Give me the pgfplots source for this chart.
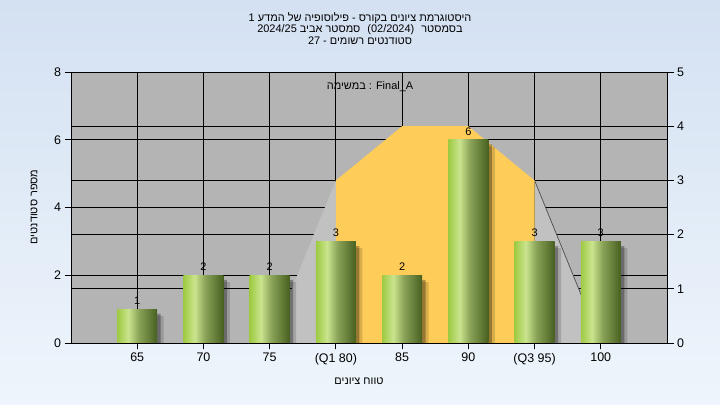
\documentclass[border=0pt]{standalone}
\usepackage{fontspec}
\setmainfont{Liberation Sans}
\newfontfamily\hebfont[Script=Hebrew]{Liberation Sans}
\usepackage{pgfplots}
\pgfplotsset{compat=1.18}
\TeXXeTstate=1

\definecolor{bgtop}{RGB}{212,225,242}
\definecolor{bgbot}{RGB}{238,245,252}
\definecolor{plotgray}{RGB}{180,180,180}
\definecolor{wedge}{RGB}{193,193,193}
\definecolor{boxor}{RGB}{254,204,88}
\definecolor{g1}{RGB}{158,202,66}
\definecolor{g2}{RGB}{202,228,142}
\definecolor{g3}{RGB}{138,163,88}
\definecolor{g4}{RGB}{72,96,32}
\pgfdeclarehorizontalshading{barshade}{100bp}{color(0bp)=(g1); color(25bp)=(g1); color(39bp)=(g2); color(52bp)=(g3); color(75bp)=(g4); color(100bp)=(g4)}

\pgfplotsset{myax/.style={
  scale only axis, width=596bp, height=271bp,
  at={(71bp,62bp)}, anchor=south west,
  xmin=-1, xmax=8,
  tick align=outside, major tick length=6.5bp,
  tick style={black, line width=0.8bp},
  axis line style={black, line width=0.8bp},
  tick label style={font=\fontsize{12.5}{13}\selectfont, black},
  /pgf/number format/assume math mode=true,
}}
\newcommand{\gbar}[2]{\addplot[ybar, bar width=40bp, bar shift=0pt, draw=none, shade, shading=barshade,
  nodes near coords,
  every node near coord/.append style={font=\fontsize{11}{11}\selectfont, text=black, yshift=1bp}]
  coordinates {(#1,#2)};}

\begin{document}
\begin{tikzpicture}
\useasboundingbox (0,0) rectangle (720bp,405bp);
\shade[top color=bgtop, bottom color=bgbot] (0,0) rectangle (720bp,405bp);

% right-scale axis: background, grid, box-plot shape
\begin{axis}[myax,
  ymin=0, ymax=5, ytick={0,...,5}, ytick pos=right,
  xtick={0,...,7}, xticklabels={}, xtick pos=left,
  xmajorgrids, ymajorgrids,
  grid style={black, line width=0.8bp},
  extra y ticks={1.25,2.5,3.75}, extra y tick labels={},
  extra y tick style={major tick length=0pt, grid=major},
  axis background/.style={fill=plotgray},
]
\addplot[fill=wedge, draw=none] coordinates {(2,0) (3,3) (3,0)} -- cycle;
\addplot[fill=wedge, draw=none] coordinates {(6,0) (6,3) (7,0)} -- cycle;
\addplot[draw=black!70, line width=0.7bp] coordinates {(6,3) (7,0)};
\addplot[fill=boxor, draw=none] coordinates {(3,0) (3,3) (4,4) (5,4) (6,3) (6,0)} -- cycle;
\end{axis}

% left-scale axis: bars
\begin{axis}[myax,
  ymin=0, ymax=8, ytick={0,2,4,6,8}, ytick pos=left,
  xtick={0,...,7}, xticklabels={65,70,75,(Q1 80),85,90,(Q3 95),100}, xtick pos=left,
]
\addplot[ybar, bar width=40bp, bar shift=6.5bp, fill=black, opacity=0.15, draw=none]
  coordinates {(0,0.8) (1,1.8) (2,1.8) (3,2.8) (4,1.8) (5,5.8) (6,2.8) (7,2.8)};
\addplot[ybar, bar width=40bp, bar shift=3.5bp, fill=black, opacity=0.3, draw=none]
  coordinates {(0,0.86) (1,1.86) (2,1.86) (3,2.86) (4,1.86) (5,5.86) (6,2.86) (7,2.86)};
\gbar{0}{1}
\gbar{1}{2}
\gbar{2}{2}
\gbar{3}{3}
\gbar{4}{2}
\gbar{5}{6}
\gbar{6}{3}
\gbar{7}{3}
\end{axis}

% titles and labels
\node[anchor=base, font=\fontsize{11}{12}\selectfont\hebfont] at (360bp,383.5bp)
  {\beginR היסטוגרמת ציונים בקורס - פילוסופיה של המדע 1\endR};
\node[anchor=base, font=\fontsize{11}{12}\selectfont\hebfont] at (360bp,372bp)
  {\beginR בסמסטר\hspace{4bp} \beginL(02/2024)\endL\hspace{4bp} סמסטר אביב \beginL 2024/25\endL\endR};
\node[anchor=base, font=\fontsize{11}{12}\selectfont\hebfont] at (360bp,360bp)
  {\beginR סטודנטים רשומים - 27\endR};
\node[font=\fontsize{11}{12}\selectfont\hebfont] at (359bp,24bp)
  {\beginR טווח ציונים\endR};
\node[rotate=90, font=\fontsize{11}{12}\selectfont\hebfont] at (34bp,198bp)
  {\beginR מספר סטודנטים\endR};
\node[font=\fontsize{11}{12}\selectfont\hebfont] at (370bp,318bp)
  {\beginR במשימה\endR{} : Final\_A};
\end{tikzpicture}
\end{document}
